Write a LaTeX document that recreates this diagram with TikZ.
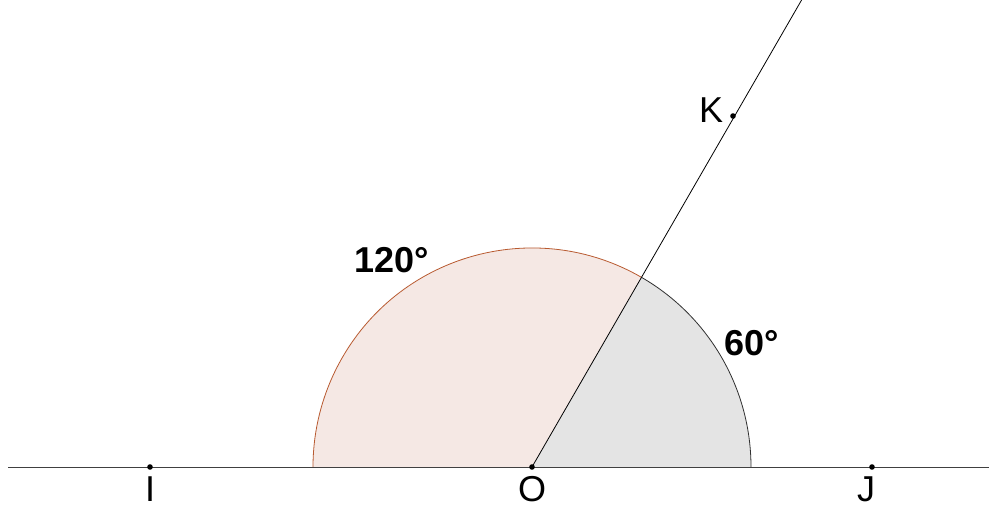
\documentclass[tikz,border=0pt]{standalone}
\usepackage{fontspec}
\setmainfont{Liberation Sans}
\usetikzlibrary{calc}
\definecolor{pinkfill}{HTML}{F5E8E4}
\definecolor{pinkline}{HTML}{B85A30}
\definecolor{grayfill}{HTML}{E4E4E4}
\definecolor{grayline}{HTML}{303030}
\begin{document}
\begin{tikzpicture}[x=0.75pt,y=0.75pt,
  lbl/.style={font=\fontsize{27}{30}\selectfont, anchor=base, inner sep=0pt},
  anglbl/.style={font=\fontsize{27}{30}\selectfont\bfseries, anchor=base, inner sep=0pt},
  pt/.style={fill=black},
  thin line/.style={line width=0.6pt}]
\useasboundingbox (0,0) rectangle (989,504);
\coordinate (O) at (532,37);
\coordinate (I) at (150,37);
\coordinate (J) at (872,37);
\coordinate (K) at (733,388);
\coordinate (L) at (8,37);
\coordinate (R) at (989,37);
\coordinate (T) at (801.6,504);
% sectors
\fill[pinkfill] (O) -- ++(60:219) arc (60:180:219) -- cycle;
\fill[grayfill] (O) -- ++(0:219) arc (0:60:219) -- cycle;
\draw[pinkline, thin line] ($(O)+(60:219)$) arc (60:180:219);
\draw[grayline, thin line] ($(O)+(0:219)$) arc (0:60:219);
% lines
\draw[black!75, thin line] (L) -- (R);
\draw[black, thin line] (O) -- (T);
% points
\fill[pt] (O) circle (2.8);
\fill[pt] (I) circle (2.8);
\fill[pt] (J) circle (2.8);
\fill[pt] (K) circle (2.8);
% labels
\node[lbl] (Il) at (150,3) {I};
\node[lbl] (Ol) at (532,3) {O};
\node[lbl] (Jl) at (866,3) {J};
\node[lbl] (Kl) at (711,381) {K};
\node[anglbl] (a1) at (392,231) {120°};
\node[anglbl] (a2) at (752,149) {60°};
\end{tikzpicture}
\end{document}
